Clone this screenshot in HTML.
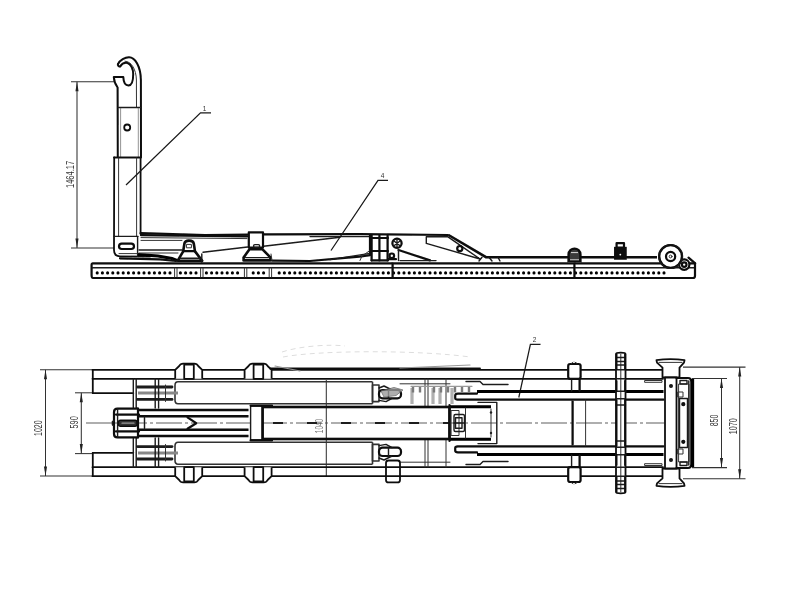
<!DOCTYPE html>
<html><head><meta charset="utf-8"><title>Hook lift drawing</title>
<style>
html,body{margin:0;padding:0;background:#fff;}
body{width:800px;height:600px;overflow:hidden;font-family:"Liberation Sans",sans-serif;}
svg{display:block}
.kk{fill:none;stroke:#050505;stroke-width:3.1}
.cb{fill:none;stroke:#1a1a1a;stroke-width:2;stroke-dasharray:10 24;stroke-dashoffset:-8}
.k3{fill:none;stroke:#0a0a0a;stroke-width:2.6}
.pin{fill:none;stroke:#1c1c1c;stroke-width:2.8;stroke-linecap:round}
.pinm{fill:none;stroke:#888;stroke-width:3}
.hd{fill:#333;stroke:#111;stroke-width:1.5}
.cl{fill:#666;stroke:#333;stroke-width:1.2;stroke-linejoin:round}
.s4{fill:none;stroke:#b0b0b0;stroke-width:3.2}
.wk3{fill:#fff;stroke:#0a0a0a;stroke-width:2.6;stroke-linejoin:round}
.bf{fill:#3a3a3a;stroke:#0a0a0a;stroke-width:2.4}
.bk{fill:#111;stroke:#0a0a0a;stroke-width:1.5}
.wl{fill:none;stroke:#ddd;stroke-width:1}
.wf{fill:#fff;stroke:none}
.ld{fill:none;stroke:#1a1a1a;stroke-width:1.25}
.h{fill:none;stroke:#0a0a0a;stroke-width:2.0;stroke-linecap:round;stroke-linejoin:round}
.m2{fill:none;stroke:#111;stroke-width:1.8;stroke-linecap:round;stroke-linejoin:round}
.wm2{fill:#fff;stroke:#111;stroke-width:1.8;stroke-linejoin:round}
.cl2{fill:#999;stroke:#666;stroke-width:1;opacity:0.8}
.t2{fill:#777;font-family:"Liberation Sans",sans-serif}
.g{fill:none;stroke:#333;stroke-width:1.6;stroke-linejoin:round}
.k{fill:none;stroke:#0a0a0a;stroke-width:2.2;stroke-linecap:round;stroke-linejoin:round}
.m{fill:none;stroke:#1a1a1a;stroke-width:1.4;stroke-linecap:round;stroke-linejoin:round}
.n{fill:none;stroke:#333;stroke-width:1.0;stroke-linecap:round;stroke-linejoin:round}
.f{fill:none;stroke:#666;stroke-width:0.7}
.d{fill:none;stroke:#333;stroke-width:1.05}
.c{fill:none;stroke:#4a4a4a;stroke-width:0.9;stroke-dasharray:26 3 3 3}
.a{fill:#222;stroke:none}
.w{fill:#fff;stroke:#1a1a1a;stroke-width:1.4;stroke-linejoin:round}
.wk{fill:#fff;stroke:#0a0a0a;stroke-width:2.2;stroke-linejoin:round}
.dots{fill:none;stroke:#050505;stroke-width:3.1;stroke-linecap:round;stroke-dasharray:0.01 5.19}
.s{fill:none;stroke:#999;stroke-width:1.2;stroke-linecap:round}
.s2{fill:none;stroke:#ddd;stroke-width:1;stroke-dasharray:5 4}
.s3{fill:none;stroke:#7a7a7a;stroke-width:2.4}
.dotv{fill:none;stroke:#222;stroke-width:1.2;stroke-dasharray:1.2 1.5}
.wdiv{fill:none;stroke:#fff;stroke-width:3}
.t{fill:#333;font-family:"Liberation Sans",sans-serif}
</style></head>
<body>
<svg width="800" height="600" viewBox="0 0 800 600">
<defs><filter id="b" x="-2%" y="-2%" width="104%" height="104%"><feGaussianBlur stdDeviation="0.7"/></filter></defs>
<rect x="0" y="0" width="800" height="600" fill="#fff"/>
<g filter="url(#b)">
<line class="d" x1="77" y1="81.8" x2="77" y2="248"/>
<line class="d" x1="71" y1="81.8" x2="114" y2="81.8"/>
<line class="d" x1="71" y1="248" x2="114" y2="248"/>
<path class="a" d="M77 81.8 L75.45 91.3 L78.55 91.3 Z"/>
<path class="a" d="M77 248 L75.45 238.5 L78.55 238.5 Z"/>
<text class="t" font-size="10" text-anchor="middle" transform="translate(73.8 174.5) rotate(-90) scale(0.75 1)">1464.17</text>
<path class="h" d="M118 64 C120 60 125 57.3 129 57.3 C135 57.3 140.7 66 140.9 80 L141 157"/>
<path class="h" d="M120.3 66.3 C122 63.5 125 62.5 127.5 63 C131 64 133.2 69 133.2 74 C133.2 81 131.5 85.5 128.5 85.5 C125.5 85.5 123.5 82 123.3 77 L113.8 77 C114 81 115 84 117.6 87.5 L117.8 157"/>
<path class="h" d="M118 64 C117.3 65.3 118.8 67 120.3 66.3"/>
<path class="n" d="M125 61.2 C131 61.2 136.2 69 136.4 80 L136.5 107"/>
<line class="m" x1="118" y1="107.5" x2="141" y2="107.5"/>
<line class="f" x1="120.6" y1="108" x2="120.6" y2="157"/>
<line class="f" x1="138.3" y1="108" x2="138.3" y2="157"/>
<circle class="m2" cx="127.2" cy="127.5" r="3"/>
<line class="m2" x1="114" y1="157.5" x2="141" y2="157.5"/>
<path class="m2" d="M114.2 157.5 L114 250 C114 254 116 256.3 120 256.3 L150 256.6"/>
<line class="m2" x1="140.6" y1="157.5" x2="140.6" y2="234"/>
<line class="n" x1="118.6" y1="158" x2="118.6" y2="236"/>
<line class="n" x1="136.6" y1="158" x2="136.6" y2="236"/>
<line class="m" x1="114" y1="236.4" x2="138" y2="236.4"/>
<rect class="k" x="119" y="243.6" width="15" height="5.4" rx="2.7"/>
<line class="m" x1="137.6" y1="237" x2="137.6" y2="256"/>
<line class="n" x1="119" y1="253.6" x2="137" y2="253.6"/>
<path class="k" d="M140.6 233.2 L205 235 L250 234.6 L262 234.4 L360 234.2 L448 235"/>
<path class="k" d="M141 235.2 L247 236.4"/>
<path class="n" d="M141 237.6 L247 238.6"/>
<line class="n" x1="141" y1="240.4" x2="182" y2="240.4"/>
<line class="m" x1="139" y1="250" x2="182" y2="250"/>
<line class="n" x1="139" y1="253" x2="178" y2="253"/>
<path class="kk" d="M138 254.6 L158 256 L172 258.6 L177 260.4"/>
<path class="k" d="M120 258.4 L160 259.4 L176 261"/>
<path class="wk3" d="M177.6 260.8 L183.2 251.4 L184.4 243.6 C185.2 239.6 193 239.6 193.8 243.6 L195 251.4 L202.2 260.8 Z"/>
<line class="k" x1="183.4" y1="251.2" x2="195" y2="251.2"/>
<rect class="n" x="186.8" y="244.4" width="4.6" height="3.4" rx="0"/>
<line class="m" x1="179.5" y1="258.2" x2="200.5" y2="258.2"/>
<line class="m" x1="201.8" y1="254" x2="201.8" y2="262"/>
<path class="m" d="M203 252.2 L247.5 247"/>
<path class="m" d="M263.5 246.3 L340 237.2"/>
<path class="m" d="M310 236.6 L370 236.6"/>
<rect class="wk" x="248.8" y="232.4" width="14.2" height="15.2" rx="0"/>
<path class="wk3" d="M243.6 260.4 L243.6 257.4 L249.5 249.3 L262.5 249.3 L270.4 257.4 L270.4 260.4 Z"/>
<line class="m" x1="245.5" y1="257.6" x2="269" y2="257.6"/>
<rect class="m" x="253.6" y="244.6" width="6.0" height="2.8" rx="1.2"/>
<path class="k" d="M272 260.6 L310 261 L359.5 256.6 L370 255.2 L370 235"/>
<path class="n" d="M272 260.3 L271 254"/>
<path class="m" d="M330 259.6 L370 253.4"/>
<line class="k" x1="371.6" y1="235.5" x2="371.6" y2="260.5"/>
<line class="k" x1="379.4" y1="235.5" x2="379.4" y2="260.5"/>
<line class="k" x1="387.6" y1="235.5" x2="387.6" y2="260.5"/>
<line class="k" x1="371.6" y1="238" x2="388" y2="238"/>
<line class="k" x1="371.6" y1="251" x2="388" y2="251"/>
<line class="k" x1="371.6" y1="260.3" x2="388" y2="260.3"/>
<circle class="k" cx="397" cy="243.3" r="4.6"/>
<path class="m" d="M394 241 L400 245.8 M400 241 L394 245.8 M397 239.5 L397 247"/>
<circle class="k" cx="391.8" cy="255.8" r="2.3"/>
<line class="k" x1="388" y1="259.2" x2="396" y2="259.2"/>
<path class="k" d="M398.5 250 L430 260.4"/>
<line class="m" x1="398.5" y1="250" x2="398.5" y2="260.5"/>
<path class="n" d="M370 250.5 L362 256 L360 260.5"/>
<path class="k3" d="M448.5 235 L486 257.2 L657 257.2"/>
<path class="m" d="M426.3 236.8 L448 236.8 L480 259 L426.3 243.4 Z"/>
<circle class="k" cx="459.8" cy="248.6" r="2.6"/>
<line class="m" x1="400" y1="260.6" x2="436" y2="260.6"/>
<path class="m" d="M482 257.3 L479 261 M489 257.3 L492 261 M498 257.3 L500 261"/>
<path class="k" d="M93 263.3 L695 263.3 L695 276 C695 277.8 694 278 693 278 L93 278 C91.6 278 91.6 276 91.6 275 L91.6 265 C91.6 263.8 91.6 263.3 93 263.3 Z"/>
<line class="m" x1="92" y1="267.8" x2="694" y2="267.8"/>
<line class="n" x1="174.60000000000002" y1="268" x2="174.60000000000002" y2="277"/>
<path class="dots" d="M97.2 272.9 L170.2 272.9"/>
<line class="n" x1="177.0" y1="268" x2="177.0" y2="277"/>
<line class="n" x1="200.60000000000002" y1="268" x2="200.60000000000002" y2="277"/>
<path class="dots" d="M180.4 272.9 L196.2 272.9"/>
<line class="n" x1="203.0" y1="268" x2="203.0" y2="277"/>
<line class="n" x1="244.4" y1="268" x2="244.4" y2="277"/>
<path class="dots" d="M206.4 272.9 L237.8 272.9"/>
<line class="n" x1="246.79999999999998" y1="268" x2="246.79999999999998" y2="277"/>
<line class="n" x1="269.2" y1="268" x2="269.2" y2="277"/>
<path class="dots" d="M253.2 272.9 L263.8 272.9"/>
<line class="n" x1="271.59999999999997" y1="268" x2="271.59999999999997" y2="277"/>
<path class="dots" d="M279.2 272.9 L664.2 272.9"/>
<line class="k" x1="392.6" y1="263.5" x2="392.6" y2="277.8"/>
<line class="k" x1="574.4" y1="263.5" x2="574.4" y2="277.8"/>
<path class="k" d="M688.5 257.6 L695.2 263.4"/>
<path class="bf" d="M568.6 261 L568.6 254.5 C568.6 246.6 580.4 246.6 580.4 254.5 L580.4 261 Z"/>
<line class="wl" x1="571" y1="252.6" x2="578" y2="252.6"/>
<line class="wl" x1="570" y1="259.8" x2="579" y2="259.8"/>
<rect class="bk" x="614.8" y="247.6" width="11.2" height="11.4" rx="0"/>
<rect class="wk" x="616.6" y="243.2" width="7.4" height="4.4" rx="0"/>
<circle class="wf" cx="620.3" cy="254.6" r="0.9"/>
<circle class="wk" cx="684.2" cy="264.6" r="5.2"/>
<circle class="k" cx="684.2" cy="264.6" r="2.3"/>
<circle class="wk" cx="670.6" cy="256.5" r="11.3"/>
<circle class="m" cx="670.6" cy="256.5" r="11.9"/>
<circle class="k" cx="670.6" cy="256.5" r="4.6"/>
<circle class="n" cx="670.6" cy="256.5" r="1.4"/>
<path class="ld" d="M126 185 L200.5 112.8 L211 112.8"/>
<text class="t" font-size="6.5" text-anchor="middle" x="204.5" y="110.5">1</text>
<path class="ld" d="M331 250.5 L378 180.3 L388 180.3"/>
<text class="t" font-size="6.5" text-anchor="middle" x="382.5" y="178">4</text>
<line class="d" x1="45.5" y1="369.8" x2="45.5" y2="476"/>
<line class="d" x1="40" y1="369.8" x2="92.5" y2="369.8"/>
<line class="d" x1="40" y1="476" x2="92.5" y2="476"/>
<path class="a" d="M45.5 369.8 L43.95 379.3 L47.05 379.3 Z"/>
<path class="a" d="M45.5 476 L43.95 466.5 L47.05 466.5 Z"/>
<text class="t" font-size="10" text-anchor="middle" transform="translate(42.2 428.2) rotate(-90) scale(0.7 1)">1020</text>
<line class="d" x1="81.3" y1="392.8" x2="81.3" y2="453.6"/>
<line class="d" x1="75" y1="392.8" x2="92.5" y2="392.8"/>
<line class="d" x1="75" y1="453.6" x2="92.5" y2="453.6"/>
<path class="a" d="M81.3 392.8 L79.75 402.3 L82.85 402.3 Z"/>
<path class="a" d="M81.3 453.6 L79.75 444.1 L82.85 444.1 Z"/>
<text class="t" font-size="10" text-anchor="middle" transform="translate(77.8 422.4) rotate(-90) scale(0.74 1)">590</text>
<line class="d" x1="721.5" y1="378.4" x2="721.5" y2="467.6"/>
<line class="d" x1="692" y1="378.4" x2="727" y2="378.4"/>
<line class="d" x1="692" y1="467.6" x2="727" y2="467.6"/>
<path class="a" d="M721.5 378.4 L719.95 387.9 L723.05 387.9 Z"/>
<path class="a" d="M721.5 467.6 L719.95 458.1 L723.05 458.1 Z"/>
<text class="t" font-size="10" text-anchor="middle" transform="translate(718.4 420.5) rotate(-90) scale(0.7 1)">850</text>
<line class="d" x1="739.7" y1="367.1" x2="739.7" y2="478.8"/>
<line class="d" x1="683" y1="367.1" x2="745.5" y2="367.1"/>
<line class="d" x1="683" y1="478.8" x2="745.5" y2="478.8"/>
<path class="a" d="M739.7 367.1 L738.1500000000001 376.6 L741.25 376.6 Z"/>
<path class="a" d="M739.7 478.8 L738.1500000000001 469.3 L741.25 469.3 Z"/>
<text class="t" font-size="10" text-anchor="middle" transform="translate(736.6 426.2) rotate(-90) scale(0.72 1)">1070</text>
<line class="d" x1="326.3" y1="380" x2="326.3" y2="476"/>
<text class="t2" font-size="10" text-anchor="middle" transform="translate(323.2 426) rotate(-90) scale(0.65 1)">1040</text>
<path class="ld" d="M518.8 397.5 L530.4 344.4 L540.5 344.4"/>
<text class="t" font-size="6.5" text-anchor="middle" x="534.6" y="342.2">2</text>
<line class="c" x1="86" y1="423.0" x2="668" y2="423.0"/>
<line class="cb" x1="265" y1="423.0" x2="450" y2="423.0"/>
<line class="m2" x1="92.5" y1="369.8" x2="663" y2="369.8"/>
<line class="m2" x1="92.5" y1="378.8" x2="663" y2="378.8"/>
<line class="m2" x1="92.8" y1="369.8" x2="92.8" y2="393.2"/>
<line class="m2" x1="92.8" y1="393.2" x2="133.3" y2="393.2"/>
<path class="wm2" d="M175.2 378.8 L175.2 369.8 L179.2 366 C180.2 363.8 181.2 363.6 183.2 363.6 L194.2 363.6 C196.2 363.6 197.2 363.8 198.2 366 L202.2 369.8 L202.2 378.8"/>
<rect class="m2" x="184.2" y="364.6" width="9.6" height="14.2" rx="0"/>
<path class="wm2" d="M244.6 378.8 L244.6 369.8 L248.6 366 C249.6 363.8 250.6 363.6 252.6 363.6 L263.6 363.6 C265.6 363.6 266.6 363.8 267.6 366 L271.6 369.8 L271.6 378.8"/>
<rect class="m2" x="253.6" y="364.6" width="9.6" height="14.2" rx="0"/>
<path class="g" d="M372.5 381.8 L178 381.8 C175.8 381.8 175 383.4 175 385.4 L175 400 C175 402.4 175.8 403.8 178 403.8 L372.5 403.8"/>
<path class="g" d="M372.5 381.8 L372.5 403.8"/>
<line class="pin" x1="137.5" y1="387" x2="172" y2="387"/>
<line class="pin" x1="137.5" y1="399.4" x2="172" y2="399.4"/>
<line class="pinm" x1="138" y1="393" x2="178" y2="393"/>
<line class="n" x1="165.5" y1="385" x2="165.5" y2="401.5"/>
<rect class="g" x="372.5" y="385" width="6.5" height="16.6" rx="0"/>
<rect class="k" x="379" y="390" width="22" height="8.4" rx="3.6"/>
<line class="m" x1="388.5" y1="390" x2="388.5" y2="398.4"/>
<path class="m" d="M379 388 L384 386 L392 390 M379 400.4 L386 401.6 L392 398.4"/>
<line class="kk" x1="477" y1="391.5" x2="663.5" y2="391.5"/>
<path class="k" d="M477 393.6 L458 393.6 C455.8 393.6 455.2 394.2 455.2 395.4 L455.2 398 C455.2 399.2 456 399.7 458 399.7 L663.5 399.7"/>
<path class="m" d="M466 381.5 L480 381.5 L483 384.5 L508 384.5"/>
<line class="n" x1="400" y1="383.8" x2="450" y2="383.8"/>
<rect class="n" x="645" y="380.5" width="17" height="1.8" rx="0"/>
<line class="m2" x1="92.5" y1="476.2" x2="663" y2="476.2"/>
<line class="m2" x1="92.5" y1="467.2" x2="663" y2="467.2"/>
<line class="m2" x1="92.8" y1="476.2" x2="92.8" y2="452.8"/>
<line class="m2" x1="92.8" y1="452.8" x2="133.3" y2="452.8"/>
<path class="wm2" d="M175.2 467.2 L175.2 476.2 L179.2 480.0 C180.2 482.2 181.2 482.4 183.2 482.4 L194.2 482.4 C196.2 482.4 197.2 482.2 198.2 480.0 L202.2 476.2 L202.2 467.2"/>
<rect class="m2" x="184.2" y="467.2" width="9.6" height="14.2" rx="0"/>
<path class="wm2" d="M244.6 467.2 L244.6 476.2 L248.6 480.0 C249.6 482.2 250.6 482.4 252.6 482.4 L263.6 482.4 C265.6 482.4 266.6 482.2 267.6 480.0 L271.6 476.2 L271.6 467.2"/>
<rect class="m2" x="253.6" y="467.2" width="9.6" height="14.2" rx="0"/>
<path class="g" d="M372.5 464.2 L178 464.2 C175.8 464.2 175 462.6 175 460.6 L175 446.0 C175 443.6 175.8 442.2 178 442.2 L372.5 442.2"/>
<path class="g" d="M372.5 464.2 L372.5 442.2"/>
<line class="pin" x1="137.5" y1="459.0" x2="172" y2="459.0"/>
<line class="pin" x1="137.5" y1="446.6" x2="172" y2="446.6"/>
<line class="pinm" x1="138" y1="453.0" x2="178" y2="453.0"/>
<line class="n" x1="165.5" y1="461.0" x2="165.5" y2="444.5"/>
<rect class="g" x="372.5" y="444.4" width="6.5" height="16.6" rx="0"/>
<rect class="k" x="379" y="447.6" width="22" height="8.4" rx="3.6"/>
<line class="m" x1="388.5" y1="447.6" x2="388.5" y2="456.0"/>
<path class="m" d="M379 458.0 L384 460.0 L392 456.0 M379 445.6 L386 444.4 L392 447.6"/>
<line class="kk" x1="477" y1="454.5" x2="663.5" y2="454.5"/>
<path class="k" d="M477 452.4 L458 452.4 C455.8 452.4 455.2 451.8 455.2 450.6 L455.2 448.0 C455.2 446.8 456 446.3 458 446.3 L663.5 446.3"/>
<path class="m" d="M466 464.5 L480 464.5 L483 461.5 L508 461.5"/>
<line class="n" x1="400" y1="462.2" x2="450" y2="462.2"/>
<rect class="n" x="645" y="463.7" width="17" height="1.8" rx="0"/>
<line class="m2" x1="270" y1="368.4" x2="480" y2="368.4"/>
<line class="m" x1="133.3" y1="379" x2="133.3" y2="408"/>
<line class="m" x1="133.3" y1="438.0" x2="133.3" y2="467.0"/>
<line class="m" x1="136.2" y1="379" x2="136.2" y2="408"/>
<line class="m" x1="136.2" y1="438.0" x2="136.2" y2="467.0"/>
<line class="m" x1="155.2" y1="379" x2="155.2" y2="408"/>
<line class="m" x1="155.2" y1="438.0" x2="155.2" y2="467.0"/>
<line class="m" x1="158.6" y1="379" x2="158.6" y2="408"/>
<line class="m" x1="158.6" y1="438.0" x2="158.6" y2="467.0"/>
<line class="n" x1="425" y1="379" x2="425" y2="407"/>
<line class="n" x1="425" y1="439.0" x2="425" y2="467.0"/>
<line class="n" x1="428" y1="379" x2="428" y2="407"/>
<line class="n" x1="428" y1="439.0" x2="428" y2="467.0"/>
<line class="n" x1="446" y1="379" x2="446" y2="407"/>
<line class="n" x1="446" y1="439.0" x2="446" y2="467.0"/>
<path class="k" d="M137.8 408.6 L117.5 408.6 C115 408.6 114 410 114 412 L114 434.0 C114 436.0 115 437.4 117.5 437.4 L137.8 437.4"/>
<line class="k" x1="116" y1="414.6" x2="139" y2="414.6"/>
<line class="k" x1="116" y1="431.4" x2="139" y2="431.4"/>
<line class="m" x1="117.6" y1="409" x2="117.6" y2="437.0"/>
<line class="k" x1="138" y1="408.6" x2="138" y2="437.4"/>
<path class="m" d="M114 420.6 L112.4 421.6 L112.4 424.8 L114 425.8"/>
<rect class="hd" x="118.5" y="420.2" width="18.5" height="6.0" rx="2"/>
<line class="s" x1="122" y1="423.2" x2="134" y2="423.2"/>
<line class="k3" x1="138" y1="410" x2="248.5" y2="410"/>
<line class="k3" x1="138" y1="436.0" x2="248.5" y2="436.0"/>
<line class="k3" x1="138" y1="416.3" x2="248.5" y2="416.3"/>
<line class="k3" x1="138" y1="429.7" x2="248.5" y2="429.7"/>
<line class="m" x1="144.5" y1="417" x2="144.5" y2="429.0"/>
<path class="k" d="M187.5 417.3 L196.2 423.2 L187.5 428.7"/>
<rect class="w" x="250.6" y="406" width="12.4" height="34.0" rx="0"/>
<path class="k" d="M250.6 405.6 L272 405.6 M250.6 440.4 L272 440.4"/>
<rect class="k3" x="262.5" y="407" width="187.0" height="32.0" rx="0"/>
<path class="kk" d="M449.5 406.8 L491 406.8 M449.5 439.2 L491 439.2"/>
<path class="m" d="M478 402.4 L496.8 402.4 L496.8 443.6 L478 443.6"/>
<line class="k" x1="449.5" y1="405" x2="449.5" y2="441.0"/>
<line class="n" x1="491" y1="409" x2="491" y2="437.0"/>
<circle class="a" cx="491" cy="412.5" r="1.2"/>
<circle class="a" cx="491" cy="433" r="1.2"/>
<rect class="n" x="451.5" y="410.5" width="7.5" height="25.0" rx="0"/>
<rect class="m" x="454" y="414.5" width="10.5" height="17.0" rx="1.5"/>
<rect class="m" x="455.5" y="417.8" width="6.5" height="10.4" rx="0"/>
<line class="m" x1="454" y1="423.0" x2="464.5" y2="423.0"/>
<line class="n" x1="465.5" y1="408" x2="465.5" y2="438.0"/>
<line class="k" x1="572.6" y1="401.5" x2="572.6" y2="444.5"/>
<line class="n" x1="585.6" y1="400" x2="585.6" y2="446.0"/>
<line class="m" x1="571.6" y1="379" x2="571.6" y2="391"/>
<line class="m" x1="571.6" y1="467.0" x2="571.6" y2="455.0"/>
<line class="k" x1="579.6" y1="379" x2="579.6" y2="391"/>
<line class="k" x1="579.6" y1="467.0" x2="579.6" y2="455.0"/>
<rect class="wk" x="568.2" y="364" width="12.4" height="14.8" rx="2"/>
<path class="n" d="M571.5 363.3 L573 362.3 M575 362.3 L577 363.3"/>
<path class="wm2" d="M656.5 360.2 C665 359 676 359 684.5 360.2 L684 362.6 L679.5 367.6 L679.5 377.5 L662.5 377.5 L662.5 367.6 L657 362.6 Z"/>
<line class="n" x1="659" y1="362.4" x2="682" y2="362.4"/>
<rect class="wk" x="568.2" y="467.2" width="12.4" height="14.8" rx="2"/>
<path class="n" d="M571.5 482.7 L573 483.7 M575 483.7 L577 482.7"/>
<path class="wm2" d="M656.5 485.8 C665 487.0 676 487.0 684.5 485.8 L684 483.4 L679.5 478.4 L679.5 468.5 L662.5 468.5 L662.5 478.4 L657 483.4 Z"/>
<line class="n" x1="659" y1="483.6" x2="682" y2="483.6"/>
<rect class="wm2" x="386" y="460.5" width="14" height="21.9" rx="2.5"/>
<line class="m2" x1="386" y1="467.2" x2="400" y2="467.2"/>
<line class="m2" x1="386" y1="476.2" x2="400" y2="476.2"/>
<path class="cl2" d="M381 391 L394 387.5 L403 390 L396 395.5 L384 397 Z"/>
<path class="wm2" d="M616 354 C616 352.3 625.5 352.3 625.5 354 L625.5 492.0 C625.5 493.7 616 493.7 616 492.0 Z"/>
<line class="n" x1="620.8" y1="354" x2="620.8" y2="492.0"/>
<line class="m" x1="616" y1="357.5" x2="625.5" y2="357.5"/>
<line class="m" x1="616" y1="488.5" x2="625.5" y2="488.5"/>
<line class="m" x1="616" y1="361.5" x2="625.5" y2="361.5"/>
<line class="m" x1="616" y1="484.5" x2="625.5" y2="484.5"/>
<line class="m" x1="616" y1="365" x2="625.5" y2="365"/>
<line class="m" x1="616" y1="481.0" x2="625.5" y2="481.0"/>
<line class="m" x1="616" y1="369.8" x2="625.5" y2="369.8"/>
<line class="m" x1="616" y1="476.2" x2="625.5" y2="476.2"/>
<line class="m" x1="616" y1="378.8" x2="625.5" y2="378.8"/>
<line class="m" x1="616" y1="467.2" x2="625.5" y2="467.2"/>
<line class="m" x1="616" y1="391.3" x2="625.5" y2="391.3"/>
<line class="m" x1="616" y1="454.7" x2="625.5" y2="454.7"/>
<line class="m" x1="616" y1="398.8" x2="625.5" y2="398.8"/>
<line class="m" x1="616" y1="447.2" x2="625.5" y2="447.2"/>
<line class="m" x1="616" y1="405" x2="625.5" y2="405"/>
<line class="m" x1="616" y1="441.0" x2="625.5" y2="441.0"/>
<line class="m2" x1="616.6" y1="354" x2="616.6" y2="369"/>
<line class="m2" x1="625" y1="354" x2="625" y2="369"/>
<line class="m2" x1="616.6" y1="381" x2="616.6" y2="391"/>
<line class="m2" x1="625" y1="381" x2="625" y2="391"/>
<line class="m2" x1="616.6" y1="400" x2="616.6" y2="446.0"/>
<line class="m2" x1="625" y1="400" x2="625" y2="446.0"/>
<line class="m2" x1="616.6" y1="455.0" x2="616.6" y2="465.0"/>
<line class="m2" x1="625" y1="455.0" x2="625" y2="465.0"/>
<line class="m2" x1="616.6" y1="477.0" x2="616.6" y2="492.0"/>
<line class="m2" x1="625" y1="477.0" x2="625" y2="492.0"/>
<rect class="wm2" x="665" y="377.5" width="11.5" height="91.0" rx="0"/>
<circle class="m2" cx="671" cy="386" r="1.1"/>
<circle class="m2" cx="671" cy="460.0" r="1.1"/>
<path class="k" d="M676.5 378 L688 378 C690.5 378 691.3 380 691.3 382 L691.3 464.0 C691.3 466.0 690.5 468.0 688 468.0 L676.5 468.0"/>
<line class="kk" x1="692.6" y1="379" x2="692.6" y2="467.0"/>
<line class="m" x1="688.8" y1="381" x2="688.8" y2="465.0"/>
<rect class="n" x="679" y="384" width="10" height="78.0" rx="0"/>
<rect class="m" x="679.5" y="398.5" width="8.0" height="49.0" rx="0"/>
<circle class="k" cx="683.3" cy="404.2" r="1"/>
<circle class="k" cx="683.3" cy="441.8" r="1"/>
<rect class="m" x="680" y="380.5" width="7" height="3.5" rx="0"/>
<rect class="m" x="680" y="462.0" width="7" height="3.5" rx="0"/>
<rect class="n" x="678" y="392" width="5" height="5" rx="0"/>
<rect class="n" x="678" y="449.0" width="5" height="5.0" rx="0"/>
<path class="s2" d="M282 352 C300 346 330 344 345 346"/>
<path class="s2" d="M283 357 C320 350 420 350 470 357"/>
<path class="s" d="M275 366 L300 371 M400 368 L470 365"/>
<line class="s4" x1="412" y1="388" x2="412" y2="404"/>
<line class="s4" x1="433" y1="388" x2="433" y2="404"/>
<line class="s4" x1="440" y1="388" x2="440" y2="404"/>
<line class="s4" x1="452" y1="388" x2="452" y2="404"/>
<line class="s3" x1="413" y1="386.5" x2="413" y2="392.5"/>
<line class="s3" x1="420" y1="386.5" x2="420" y2="392.5"/>
<line class="s3" x1="434" y1="386.5" x2="434" y2="392.5"/>
<line class="s3" x1="441" y1="386.5" x2="441" y2="392.5"/>
<line class="s3" x1="448" y1="386.5" x2="448" y2="392.5"/>
<line class="s3" x1="455" y1="386.5" x2="455" y2="392.5"/>
<line class="s3" x1="462" y1="386.5" x2="462" y2="392.5"/>
<line class="s3" x1="469" y1="386.5" x2="469" y2="392.5"/>
<line class="s" x1="411" y1="386.3" x2="472" y2="386.3"/>
</g>
</svg>
</body></html>
